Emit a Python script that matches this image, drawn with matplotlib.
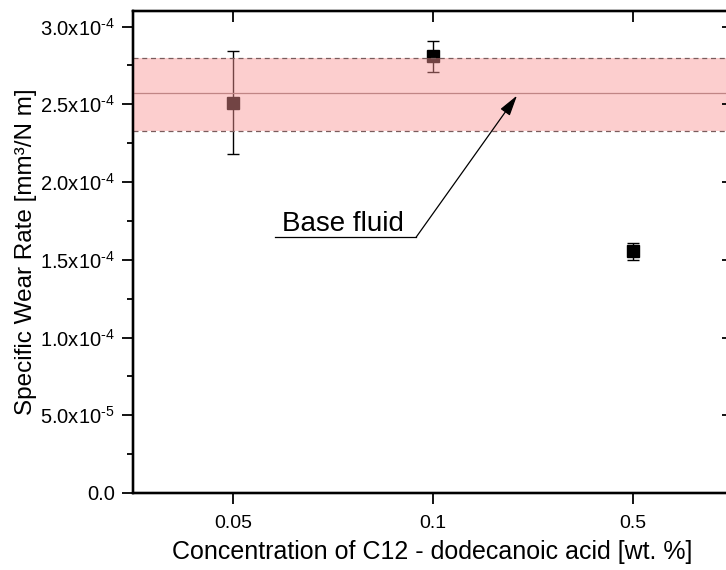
import numpy as np
import matplotlib
matplotlib.use('Agg')
import matplotlib.pyplot as plt
from matplotlib.ticker import FixedLocator, MultipleLocator

plt.rcParams['font.family'] = ['Liberation Sans', 'DejaVu Sans']
plt.rcParams['mathtext.fontset'] = 'custom'
plt.rcParams['mathtext.rm'] = 'Liberation Sans'

# data
concentrations = ['0.05', '0.1', '0.5']
wear_rate = [2.51e-4, 2.81e-4, 1.555e-4]
err_low = [0.33e-4, 0.10e-4, 0.055e-4]
err_high = [0.33e-4, 0.10e-4, 0.055e-4]
base_mean = 2.57e-4
base_low = 2.33e-4
base_high = 2.80e-4

y_ticks = [0.0, 5e-5, 1e-4, 1.5e-4, 2e-4, 2.5e-4, 3e-4]
y_tick_labels = ['0.0',
                 r'5.0x10$^{\mathregular{\text{-}5}}$',
                 r'1.0x10$^{\mathregular{\text{-}4}}$',
                 r'1.5x10$^{\mathregular{\text{-}4}}$',
                 r'2.0x10$^{\mathregular{\text{-}4}}$',
                 r'2.5x10$^{\mathregular{\text{-}4}}$',
                 r'3.0x10$^{\mathregular{\text{-}4}}$']

fig = plt.figure(figsize=(7.26, 5.70), dpi=100)
ax = fig.add_axes([133 / 726, 77 / 570, 600 / 726, 482 / 570])

xpos = np.arange(len(concentrations))
ax.errorbar(xpos, wear_rate, yerr=[err_low, err_high], fmt='s', color='black',
            markersize=8, ecolor='black', elinewidth=1, capsize=4, capthick=1, zorder=2)

# base fluid band drawn over the points
ax.axhspan(base_low, base_high, color=(250 / 255, 150 / 255, 150 / 255), alpha=0.46,
           lw=0, zorder=3)
ax.axhline(base_high, color='#7a5c5c', lw=0.9, ls=(0, (4, 3)), zorder=4)
ax.axhline(base_low, color='#7a5c5c', lw=0.9, ls=(0, (4, 3)), zorder=4)
ax.axhline(base_mean, color='#c08585', lw=0.9, zorder=4)

ax.set_xlim(-0.5, 2.5)
ax.set_ylim(0, 3.1e-4)

ax.set_xticks(xpos)
ax.set_xticklabels(concentrations, fontsize=14)
ax.yaxis.set_major_locator(FixedLocator(y_ticks))
ax.set_yticklabels(y_tick_labels, fontsize=14.5)
ax.yaxis.set_minor_locator(MultipleLocator(2.5e-5))

ax.tick_params(axis='both', which='major', direction='out', length=8, width=1.3, pad=5)
ax.tick_params(axis='x', which='major', pad=8)
ax.tick_params(axis='y', which='minor', direction='out', length=4, width=1.3)
ax.tick_params(axis='x', which='minor', bottom=False)

# inner ticks on top and right
ax2 = ax.twiny()
ax2.set_xlim(ax.get_xlim())
ax2.set_xticks(xpos)
ax2.set_xticklabels([])
ax2.tick_params(axis='x', direction='in', length=8, width=1.3)
ax3 = ax.twinx()
ax3.set_ylim(ax.get_ylim())
ax3.yaxis.set_major_locator(FixedLocator(y_ticks))
ax3.set_yticklabels([])
ax3.tick_params(axis='y', direction='in', length=8, width=1.3)

for a in [ax, ax2, ax3]:
    for sp in a.spines.values():
        sp.set_linewidth(1.6)

ax.set_xlabel('Concentration of C12 - dodecanoic acid [wt. %]', fontsize=18, va='center')
ax.xaxis.set_label_coords(0.498, -0.122)
ax.set_ylabel('Specific Wear Rate [mm³/N m]', fontsize=17.5, va='center')
ax.yaxis.set_label_coords(-0.178, 0.5)

# annotation
ax.annotate('', xy=(1.42, 2.556e-4), xytext=(0.915, 1.644e-4),
            arrowprops=dict(arrowstyle='-|>,head_length=0.9,head_width=0.25',
                            color='black', lw=0.9, mutation_scale=14,
                            shrinkA=0, shrinkB=0), zorder=5)
ax.plot([0.21, 0.915], [1.644e-4, 1.644e-4], color='black', lw=0.9, zorder=5)
ax.text(0.55, 1.685e-4, 'Base fluid', fontsize=20, ha='center', va='baseline', zorder=5)

fig.savefig('out.png', dpi=100)
